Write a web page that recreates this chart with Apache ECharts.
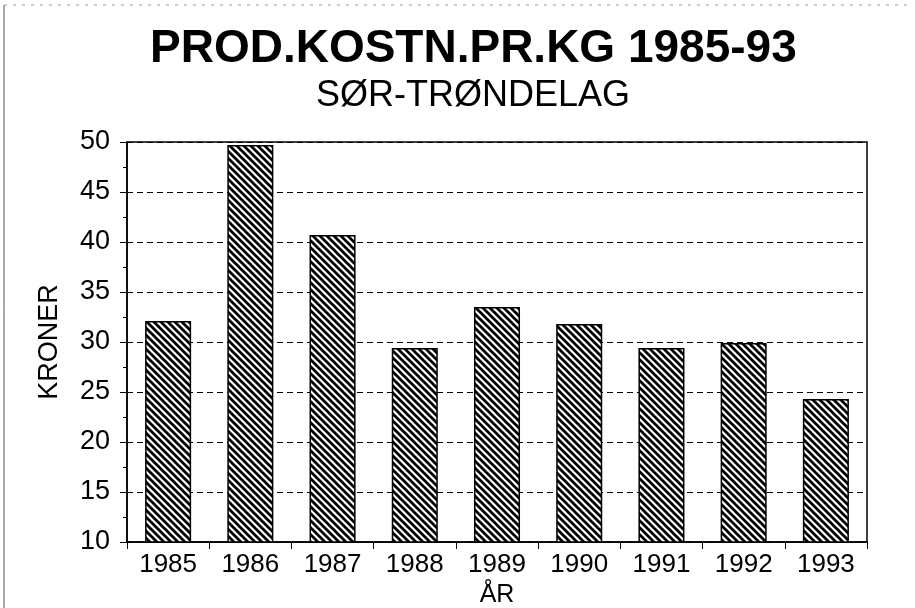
<!DOCTYPE html>
<html>
<head>
<meta charset="utf-8">
<script src="https://cdn.jsdelivr.net/npm/echarts@6/dist/echarts.min.js"></script>
<style>html,body{margin:0;padding:0;background:#fff;}#c{width:915px;height:608px;}</style>
</head>
<body>
<div id="c"></div>
<script>
const titleText = 'PROD.KOSTN.PR.KG 1985-93';
const subtitleText = 'SØR-TRØNDELAG';
const years = ['1985','1986','1987','1988','1989','1990','1991','1992','1993'];
const kroner = [32.1, 49.7, 40.7, 29.4, 33.5, 31.8, 29.4, 29.9, 24.3];
const yTicks = [10, 15, 20, 25, 30, 35, 40, 45, 50];

function hatch() {
  const p = 7;
  const cv = document.createElement('canvas');
  cv.width = p; cv.height = p;
  const ctx = cv.getContext('2d');
  ctx.fillStyle = '#fff';
  ctx.fillRect(0, 0, p, p);
  ctx.strokeStyle = '#000';
  ctx.lineWidth = 2.7;
  for (let k = -1; k <= 1; k++) {
    ctx.beginPath();
    ctx.moveTo(k * p - 1, -1);
    ctx.lineTo(k * p + p + 1, p + 1);
    ctx.stroke();
  }
  return cv;
}

const chart = echarts.init(document.getElementById('c'), null, {renderer: 'canvas'});
const font = '"Liberation Sans", Arial, sans-serif';
chart.setOption({
  animation: false,
  backgroundColor: '#fff',
  title: [
    {text: titleText, left: 145, top: 21,
     textStyle: {fontFamily: font, fontSize: 46, fontWeight: 'bold', color: '#000'}},
    {text: subtitleText, left: 311, top: 73,
     textStyle: {fontFamily: font, fontSize: 36, fontWeight: 'normal', color: '#000'}}
  ],
  graphic: [
    {type: 'line', shape: {x1: 4, y1: 5, x2: 4, y2: 608}, style: {stroke: '#555', lineWidth: 1}},
    {type: 'line', shape: {x1: 4, y1: 5, x2: 912, y2: 5}, style: {stroke: '#999', lineWidth: 1, lineDash: [3, 6]}}
  ],
  grid: {left: 127, right: 48, top: 142, bottom: 66, containLabel: false, outerBoundsMode: 'none',
         show: true, borderColor: '#000', borderWidth: 1.5, backgroundColor: 'transparent'},
  xAxis: {
    type: 'category', data: years,
    name: 'ÅR', nameLocation: 'middle', nameGap: 38,
    nameTextStyle: {fontFamily: font, fontSize: 25, color: '#000'},
    axisLine: {lineStyle: {color: '#000', width: 1.5}},
    axisTick: {show: true, length: 7, lineStyle: {color: '#000', width: 1}},
    axisLabel: {fontFamily: font, fontSize: 26, color: '#000', margin: 10},
    splitLine: {show: false}
  },
  yAxis: {
    type: 'value', min: 10, max: 50, interval: 5,
    name: 'KRONER', nameLocation: 'middle', nameGap: 64,
    nameTextStyle: {fontFamily: font, fontSize: 27, color: '#000'},
    axisLine: {show: true, lineStyle: {color: '#000', width: 1.5}},
    axisTick: {show: true, length: 7, lineStyle: {color: '#000', width: 1}},
    minorTick: {show: true, splitNumber: 2, length: 4, lineStyle: {color: '#000'}},
    axisLabel: {fontFamily: font, fontSize: 27, color: '#000', margin: 17,
      formatter: v => (yTicks.indexOf(v) >= 0 ? String(v) : '')},
    splitLine: {show: true, lineStyle: {color: '#000', width: 1, type: [6, 4]}}
  },
  series: [{
    type: 'bar', data: kroner, barWidth: '56%',
    itemStyle: {color: {image: hatch(), repeat: 'repeat'}, borderColor: '#000', borderWidth: 1.5}
  }]
});
</script>
</body>
</html>
